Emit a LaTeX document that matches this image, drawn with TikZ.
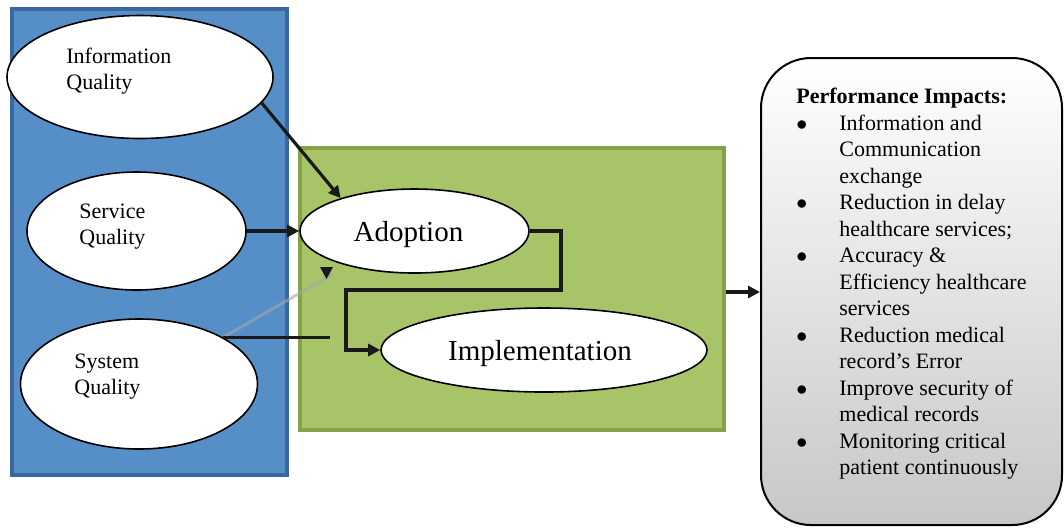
\documentclass[tikz,border=0pt]{standalone}
\usepackage{fontspec}
\setmainfont{Liberation Serif}
\usepackage{tikz}
\usetikzlibrary{positioning}
\usetikzlibrary{shapes.geometric}
\usetikzlibrary{arrows.meta}
\definecolor{blueA}{RGB}{86,143,200}
\definecolor{blueB}{RGB}{58,104,158}
\definecolor{greenA}{RGB}{168,196,104}
\definecolor{greenB}{RGB}{134,162,72}
\tikzstyle{rectangle1} = [rectangle, minimum width=137.5pt, minimum height=233pt, draw=blueB, fill=blueA, line width=2pt]
\tikzstyle{rectangle2} = [rectangle, minimum width=212pt, minimum height=141pt, draw=greenB, fill=greenA, line width=2pt]
\tikzstyle{rectangle3} = [rectangle, rounded corners=25pt, minimum width=150.5pt, minimum height=233.5pt, draw=black, top color=white, bottom color=black!22, line width=1pt]
\tikzstyle{ellipse1} = [ellipse, inner sep=0pt, draw=black, fill=white, line width=0.8pt]
\tikzstyle{text1} = [align=left, inner sep=0pt, font=\fontsize{11}{13}\selectfont]
\tikzstyle{arrow1} = [-{Triangle[length=6pt,width=6pt]}, line width=1.6pt, black!90]
\newcommand{\blt}{$\bullet$}

\begin{document}
\begin{tikzpicture}[x=0.5pt,y=-0.5pt]
			\useasboundingbox (0,0) rectangle (1064,527);
			% the three boxes
			\node[rectangle1](quality) at (149.5,242){};
			\node[rectangle2](usage) at (512,289){};
			\node[rectangle3](impacts) at (911.5,291.5){};
			% quality ellipses
			\node[ellipse1, minimum width=133pt, minimum height=61.5pt](info) at (140,77){};
			\node[text1, anchor=west](infotext) at (66,71){Information\\Quality};
			\node[ellipse1, minimum width=109.5pt, minimum height=59pt](service) at (136.5,231){};
			\node[text1, anchor=west](servicetext) at (79,227){Service\\Quality};
			\node[ellipse1, minimum width=118.5pt, minimum height=65pt](system) at (139,384){};
			\node[text1, anchor=west](systemtext) at (74,377){System\\Quality};
			% adoption and implementation
			\node[ellipse1, minimum width=114.5pt, minimum height=42pt, font=\fontsize{14.5}{16}\selectfont, text depth=0pt](adoption) at (414.5,231){\hspace*{-6pt}Adoption};
			\node[ellipse1, minimum width=163pt, minimum height=42pt, font=\fontsize{14.5}{16}\selectfont, text depth=0pt](implementation) at (544,350){\hspace*{-4pt}Implementation};
			% list of impacts
			\node[anchor=north west, inner sep=0pt, font=\fontsize{11}{13.25}\selectfont](impactlist) at (796,85){%
				\begin{tabular}{@{}p{21.5pt}@{}l@{}}
				\multicolumn{2}{@{}l@{}}{\textbf{Performance Impacts:}}\\
				\blt & Information and\\
				 & Communication\\
				 & exchange\\
				\blt & Reduction in delay\\
				 & healthcare services;\\
				\blt & Accuracy \&\\
				 & Efficiency healthcare\\
				 & services\\
				\blt & Reduction medical\\
				 & record’s Error\\
				\blt & Improve security of\\
				 & medical records\\
				\blt & Monitoring critical\\
				 & patient continuously
				\end{tabular}};
			% connectors
			\coordinate (sysend) at (system.29 -| 330,0);
			\draw[line width=1.5pt, gray!70, opacity=0.6] (system.29) -- (333,274);
			\fill[black!90] (320,267) -- (333,267) -- (326.5,279) -- cycle;
			\draw[line width=1.6pt, black!90] (system.29) -- (sysend);
			\draw[arrow1] (info.-12) -- (adoption.156);
			\draw[arrow1] (service.east) -- (adoption.west);
			\draw[arrow1] (adoption.east) -- (561,231) |- (346,290) |- (implementation.west);
			\draw[arrow1] (usage.east |- 0,292) -- (impacts.west |- 0,292);
		\end{tikzpicture}
\end{document}
